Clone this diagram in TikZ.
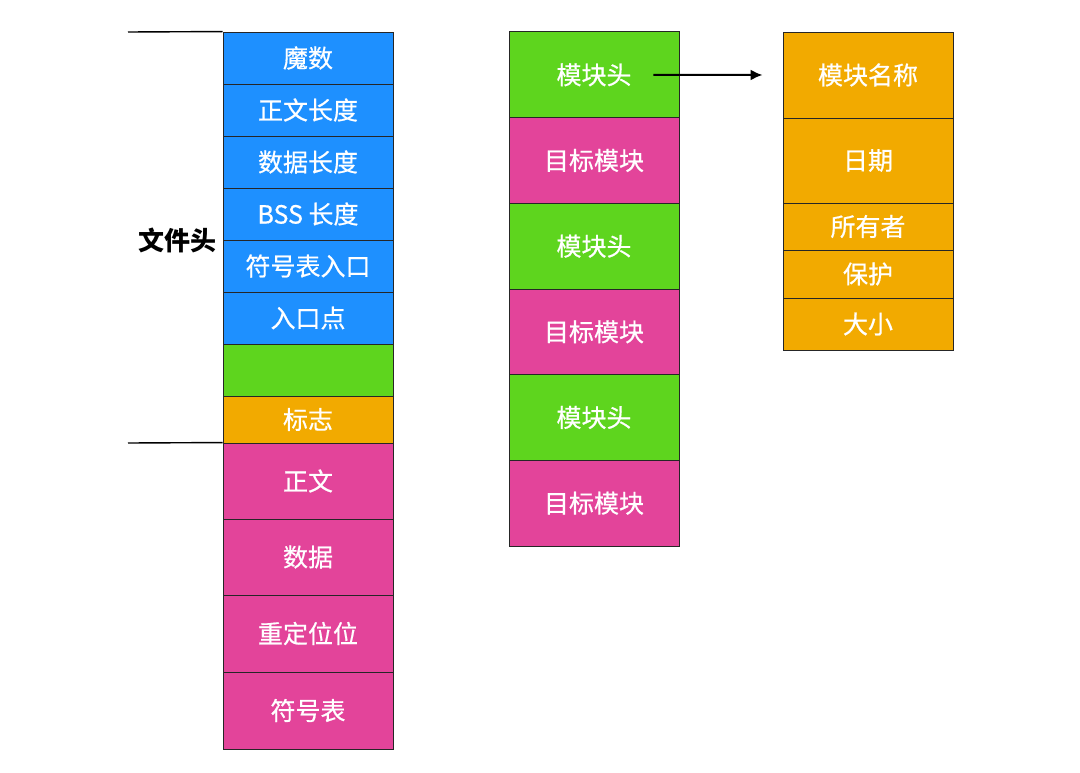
\documentclass[tikz,border=0pt]{standalone}
\usepackage{fontspec}
\setmainfont{Noto Sans CJK SC}
\newfontfamily\medfont{Noto Sans CJK SC}[FakeBold=0.6]
\usetikzlibrary{arrows.meta}
\definecolor{hdblue}{RGB}{30,144,255}
\definecolor{hdgreen}{RGB}{94,213,30}
\definecolor{hdpink}{RGB}{227,68,154}
\definecolor{hdorange}{RGB}{242,170,0}
\tikzset{
  blk/.style={draw=black!85, line width=0.9pt, minimum width=170pt, inner sep=0pt,
    text=white, font=\medfont\fontsize{25}{25}\selectfont},
}
\begin{document}
\begin{tikzpicture}[x=1pt, y=-1pt]
\useasboundingbox (0,0) rectangle (1080,773);
% left column: file header
\node[blk, fill=hdblue, minimum height=52pt] (hd0) at (308,58){魔数};
\node[blk, fill=hdblue, minimum height=52pt] (hd1) at (308,110){正文长度};
\node[blk, fill=hdblue, minimum height=52pt] (hd2) at (308,162){数据长度};
\node[blk, fill=hdblue, minimum height=52pt] (hd3) at (308,214){BSS 长度};
\node[blk, fill=hdblue, minimum height=52pt] (hd4) at (308,266){符号表入口};
\node[blk, fill=hdblue, minimum height=52pt] (hd5) at (308,318){入口点};
\node[blk, fill=hdgreen, minimum height=52pt] (hd6) at (308,370){};
\node[blk, fill=hdorange, minimum height=47pt] (hd7) at (308,419.5){标志};
% left column: body
\node[blk, fill=hdpink, minimum height=76pt] (bd0) at (308,481){正文};
\node[blk, fill=hdpink, minimum height=76pt] (bd1) at (308,557){数据};
\node[blk, fill=hdpink, minimum height=77pt] (bd2) at (308,633.5){重定位位};
\node[blk, fill=hdpink, minimum height=77pt] (bd3) at (308,710.5){符号表};
\coordinate (t0) at (128,32);
\coordinate (t1) at (128,443);
\draw[line width=1.4pt](t0) -- (hd0.north west);
\draw[line width=1.4pt](t1) -- (bd0.north west);
\node[font=\fontsize{26}{26}\selectfont\bfseries] (fh) at (177,240){文件头};

% middle column: modules
\node[blk, fill=hdgreen, minimum height=85.7pt] (mh0) at (594,74.8){模块头};
\node[blk, fill=hdpink, minimum height=85.7pt] (mb0) at (594,160.5){目标模块};
\node[blk, fill=hdgreen, minimum height=85.7pt] (mh1) at (594,246.2){模块头};
\node[blk, fill=hdpink, minimum height=85.7pt] (mb1) at (594,331.8){目标模块};
\node[blk, fill=hdgreen, minimum height=85.7pt] (mh2) at (594,417.5){模块头};
\node[blk, fill=hdpink, minimum height=85.7pt] (mb2) at (594,503.2){目标模块};

% right column: module header
\node[blk, fill=hdorange, minimum height=86pt] (mn0) at (868,75){模块名称};
\node[blk, fill=hdorange, minimum height=85pt] (mn1) at (868,160.5){日期};
\node[blk, fill=hdorange, minimum height=47pt] (mn2) at (868,226.5){所有者};
\node[blk, fill=hdorange, minimum height=48pt] (mn3) at (868,274){保护};
\node[blk, fill=hdorange, minimum height=52pt] (mn4) at (868,324){大小};
\draw[line width=2pt, -{Latex[length=12pt,width=11pt]}]([xshift=-26pt]mh0.east) -- ([xshift=-20pt]mn0.west);

\end{tikzpicture}
\end{document}
